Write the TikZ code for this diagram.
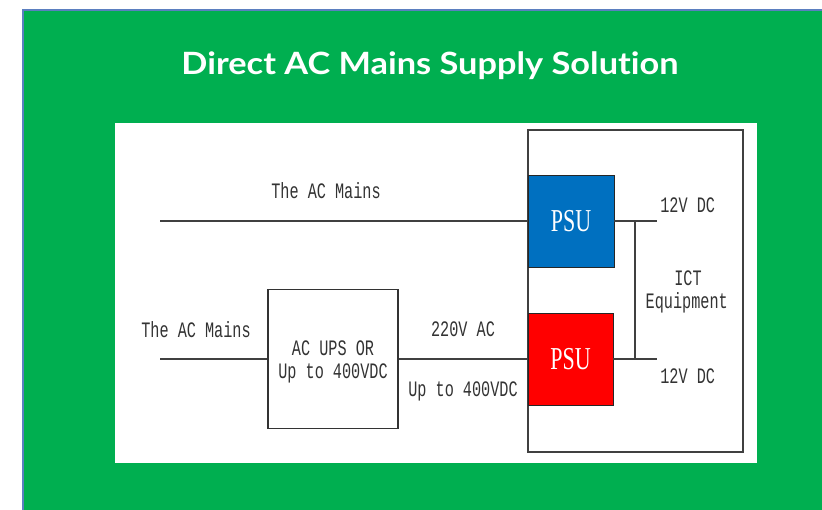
\documentclass[tikz,border=0pt]{standalone}
\usepackage{fontspec}
\setmainfont{Liberation Serif}
\newfontfamily\titlefont[Ligatures={NoCommon}]{Lato}
\newfontfamily\monofont{Liberation Mono}
\newcommand{\tallt}[1]{\scalebox{1}[1.45]{#1}}
\definecolor{bggreen}{HTML}{00AF50}
\definecolor{edgeblue}{HTML}{5B7FC0}
\definecolor{psublue}{HTML}{0070C0}
\definecolor{psured}{HTML}{FF0000}
\definecolor{wire}{HTML}{404040}
\begin{document}
\begin{tikzpicture}[x=1pt,y=-1pt,
  lbl/.style={inner sep=0pt,anchor=base,font=\monofont\fontsize{15.2}{18}\selectfont,text=black!80},
  psubox/.style={draw=black!85,line width=0.9pt,minimum width=86pt,minimum height=92pt,inner sep=0pt,text=white,
    font=\fontsize{22}{26}\selectfont},
  wireline/.style={draw=wire,line width=1.2pt},
  plainbox/.style={draw=black!80,line width=1.1pt,inner sep=0pt}]
\useasboundingbox (0,0) rectangle (822,510);
\fill[white] (0,0) rectangle (822,510);
% green panel
\fill[bggreen] (23,10) rectangle (822,510);
\draw[edgeblue,line width=1.3pt] (23,510) -- (23,10) -- (822,10);
% title
\node[inner sep=0pt,anchor=base,text=white] (title) at (430,75)
  {\resizebox{497pt}{22.8pt}{\titlefont\bfseries Direct AC Mains Supply Solution}};
% white panel
\fill[white] (115,123) rectangle (757,463);
% equipment box
\node[plainbox,draw=black!75,minimum width=215pt,minimum height=322pt] (equip) at (635.5,291) {};
% PSUs
\node[psubox,fill=psublue] (psuB) at (571,221) {\tallt{PSU}};
\node[psubox,fill=psured,minimum width=85pt] (psuR) at (570.5,359) {\tallt{PSU}};
% UPS box
\node[plainbox,minimum width=130pt,minimum height=139pt] (ups) at (333,359) {};
% coordinates
\coordinate (i1) at (160,221);
\coordinate (i2) at (160,359);
\coordinate (o1) at (657,221);
\coordinate (o2) at (657,359);
\coordinate (j1) at (635,221);
\coordinate (j2) at (635,359);
% wires
\draw[wireline] (i1) -- (psuB.west);
\draw[wireline] (psuB.east) -- (o1);
\draw[wireline] (j1) -- (j2);
\draw[wireline] (i2) -- (ups.west);
\draw[wireline] (ups.east) -- (psuR.west);
\draw[wireline] (psuR.east) -- (o2);
% labels
\node[lbl] (lmains1) at (326,198.3) {\tallt{The AC Mains}};
\node[lbl] (lmains2) at (196,337.3) {\tallt{The AC Mains}};
\node[lbl] (lups1) at (333,356) {\tallt{AC UPS OR}};
\node[lbl] (lups2) at (333,378.7) {\tallt{Up to 400VDC}};
\node[lbl] (l220) at (463,337) {\tallt{220V AC}};
\node[lbl] (l400) at (463,396.7) {\tallt{Up to 400VDC}};
\node[lbl] (ldc1) at (687.7,212.3) {\tallt{12V DC}};
\node[lbl] (lict) at (688,286) {\tallt{ICT}};
\node[lbl] (leq) at (686.7,308.3) {\tallt{Equipment}};
\node[lbl] (ldc2) at (687.7,383.3) {\tallt{12V DC}};
\end{tikzpicture}
\end{document}
